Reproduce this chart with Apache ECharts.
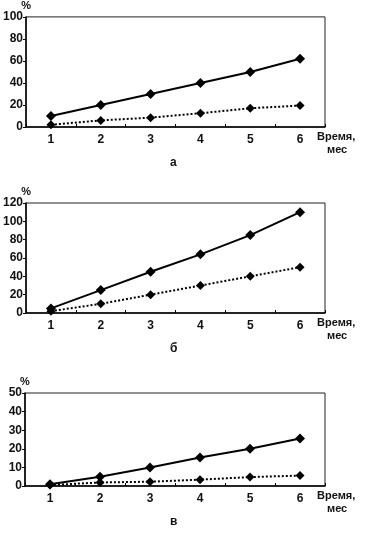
<!DOCTYPE html>
<html>
<head>
<meta charset="utf-8">
<script src="https://cdn.jsdelivr.net/npm/echarts@6/dist/echarts.min.js"></script>
<style>
html,body{margin:0;padding:0;background:#fff;}
#c{width:367px;height:543px;}
</style>
</head>
<body>
<div id="c"></div>
<script>
const months = ['1','2','3','4','5','6'];
const aSolid = [10, 20, 30, 40, 50, 62];
const aDotted = [2, 6, 8.5, 12.5, 17, 19.5];
const bSolid = [5, 25, 45, 64, 85, 110];
const bDotted = [2, 10, 20, 30, 40, 50];
const vSolid = [1, 5, 10, 15.3, 20, 25.5];
const vDotted = [0.5, 1.9, 2.3, 3.4, 4.8, 5.6];
const yMaxes = [100, 120, 50];
const yIntervals = [20, 20, 10];
const panelLabels = ['а', 'б', 'в'];
const xName = ['Время,', 'мес'];
const yName = '%';

const FONT = 'Liberation Sans, Arial, sans-serif';
const grids = [
  {left: 25, top: 14, width: 300, height: 113},
  {left: 25, top: 203, width: 300, height: 110},
  {left: 25, top: 393, width: 300, height: 93}
];
const solids = [aSolid, bSolid, vSolid];
const dotteds = [aDotted, bDotted, vDotted];

const option = {
  animation: false,
  backgroundColor: '#fff',
  grid: grids.map(g => Object.assign({show: true, borderColor: '#222', borderWidth: 1, backgroundColor: 'transparent'}, g)),
  xAxis: grids.map((g, i) => ({
    type: 'category', gridIndex: i, data: months, boundaryGap: true,
    axisLine: {lineStyle: {color: '#000', width: 1.5}},
    axisTick: {show: true, inside: true, length: 3, lineStyle: {color: '#000'}},
    axisLabel: {color: '#111', fontFamily: FONT, fontSize: 12, fontWeight: 'bold', margin: 7}
  })),
  yAxis: grids.map((g, i) => ({
    type: 'value', gridIndex: i, min: 0, max: yMaxes[i], interval: yIntervals[i],
    name: yName, nameLocation: 'end', nameGap: 1,
    nameTextStyle: {color: '#111', fontFamily: FONT, fontSize: 11, fontWeight: 'bold', align: 'center'},
    splitLine: {show: false},
    axisLine: {show: true, lineStyle: {color: '#000', width: 1.5}},
    axisTick: {show: true, length: 3, lineStyle: {color: '#000'}},
    axisLabel: {color: '#111', fontFamily: FONT, fontSize: 12, fontWeight: 'bold', margin: 3}
  })),
  series: [],
  graphic: []
};

for (let i = 0; i < 3; i++) {
  option.series.push({
    type: 'line', xAxisIndex: i, yAxisIndex: i, data: dotteds[i],
    symbol: 'diamond', symbolSize: 9, z: 2,
    lineStyle: {color: '#000', width: 2, type: 'dotted'},
    itemStyle: {color: '#000'}
  });
  option.series.push({
    type: 'line', xAxisIndex: i, yAxisIndex: i, data: solids[i],
    symbol: 'diamond', symbolSize: 10, z: 3,
    lineStyle: {color: '#000', width: 2},
    itemStyle: {color: '#000'}
  });
  const g = grids[i];
  const base = g.top + g.height;
  option.graphic.push({
    type: 'text', left: 317, top: base + 4,
    style: {text: xName[0], fill: '#111', font: 'bold 11px ' + FONT}
  });
  option.graphic.push({
    type: 'text', left: 327, top: base + 17,
    style: {text: xName[1], fill: '#111', font: 'bold 11px ' + FONT}
  });
  option.graphic.push({
    type: 'text', left: 170, top: base + 30,
    style: {text: panelLabels[i], fill: '#111', font: 'bold 12px ' + FONT}
  });
}

const chart = echarts.init(document.getElementById('c'), null, {renderer: 'canvas'});
chart.setOption(option);
</script>
</body>
</html>
